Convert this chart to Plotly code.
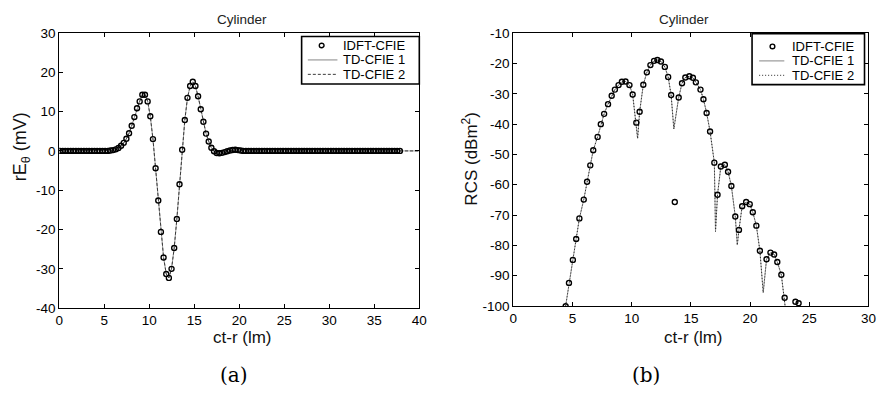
import plotly.graph_objects as go

# ---------------- (a) transient far field, rE_theta in mV ----------------
# IDFT-CFIE samples on a uniform time grid (ct-r in light-metres)
T0 = 0.085
DT = 0.295
e_theta_idft = [
    0.0, 0.0, 0.0, 0.0, 0.0, 0.0, 0.0, 0.0, 0.0, 0.0,
    0.0, 0.0, 0.0, 0.0, 0.0, 0.0, 0.0, 0.0, 0.0, 0.1,
    0.2, 0.4, 0.75, 1.3, 2.05, 3.1, 4.5, 6.4, 8.6, 10.85,
    12.6, 14.3, 14.3, 12.6, 8.8, 3.0, -4.4, -12.6, -20.6, -27.1,
    -31.3, -32.3, -30.0, -24.7, -17.3, -8.5, 0.3, 7.85, 13.5, 16.5,
    17.6, 16.5, 13.9, 10.6, 7.4, 4.4, 2.4, 0.8, -0.1, -0.55,
    -0.6, -0.5, -0.3, -0.1, 0.1, 0.25, 0.3, 0.2, 0.1, 0.0,
    0.0, 0.0, 0.0, 0.0, 0.0, 0.0, 0.0, 0.0, 0.0, 0.0,
    0.0, 0.0, 0.0, 0.0, 0.0, 0.0, 0.0, 0.0, 0.0, 0.0,
    0.0, 0.0, 0.0, 0.0, 0.0, 0.0, 0.0, 0.0, 0.0, 0.0,
    0.0, 0.0, 0.0, 0.0, 0.0, 0.0, 0.0, 0.0, 0.0, 0.0,
    0.0, 0.0, 0.0, 0.0, 0.0, 0.0, 0.0, 0.0, 0.0, 0.0,
    0.0, 0.0, 0.0, 0.0, 0.0, 0.0, 0.0, 0.0, 0.0,
]
t_idft = [round(T0 + DT * k, 3) for k in range(len(e_theta_idft))]

# time-domain CFIE solutions run on to the end of the window
t_td = t_idft + [40.0]
e_theta_td = e_theta_idft + [0.0]

ticks_a_x = [0, 5, 10, 15, 20, 25, 30, 35, 40]
ticks_a_y = [30, 20, 10, 0, -10, -20, -30, -40]

# ---------------- (b) RCS in dBm^2 ----------------
rcs_idft_x = [
    4.42, 4.70, 5.03, 5.31, 5.58, 5.95, 6.23, 6.50, 6.75, 7.12,
    7.39, 7.67, 8.00, 8.31, 8.58, 8.89, 9.17, 9.48, 9.81, 10.08,
    10.39, 10.67, 10.98, 11.28, 11.58, 11.89, 12.17, 12.47, 12.80, 13.08,
    13.33, 13.64, 13.97, 14.25, 14.53, 14.87, 15.17, 15.42, 15.81, 16.06,
    16.33, 16.62, 16.98, 17.25, 17.53, 17.87, 18.14, 18.42, 18.75, 19.06,
    19.33, 19.67, 19.97, 20.23, 20.53, 20.83, 21.39, 21.72, 22.03, 22.30,
    22.64, 22.92, 23.83, 24.10,
]
rcs_idft_y = [
    -100.1, -92.4, -84.8, -77.9, -71.1, -64.9, -59.0, -53.6, -48.6, -44.2,
    -40.0, -36.6, -33.4, -30.6, -28.6, -27.1, -26.0, -25.9, -27.1, -30.2,
    -39.5, -35.9, -27.0, -22.9, -20.5, -19.1, -18.8, -19.3, -21.1, -24.4,
    -30.4, -65.7, -31.2, -26.5, -24.6, -24.2, -24.7, -26.2, -28.6, -31.8,
    -36.3, -42.4, -52.7, -63.3, -54.0, -53.4, -55.7, -60.4, -70.5, -74.9,
    -67.1, -65.7, -66.4, -69.1, -73.5, -81.8, -84.6, -82.4, -83.0, -85.5,
    -89.7, -97.3, -98.6, -99.1,
]

rcs_td_x = [
    4.30, 4.42, 4.70, 5.03, 5.31, 5.58, 5.95, 6.23, 6.50, 6.75,
    7.12, 7.39, 7.67, 8.00, 8.31, 8.58, 8.89, 9.17, 9.48, 9.81,
    10.08, 10.39, 10.50, 10.67, 10.98, 11.28, 11.58, 11.89, 12.17, 12.47,
    12.80, 13.08, 13.33, 13.56, 13.97, 14.25, 14.53, 14.87, 15.17, 15.42,
    15.81, 16.06, 16.33, 16.62, 16.98, 17.08, 17.25, 17.53, 17.87, 18.14,
    18.42, 18.75, 18.92, 19.06, 19.33, 19.67, 19.97, 20.23, 20.53, 20.83,
    21.11, 21.39, 21.72, 22.03, 22.30, 22.64, 22.92, 23.05,
]
rcs_td_y = [
    -103.0, -100.1, -92.4, -84.8, -77.9, -71.1, -64.9, -59.0, -53.6, -48.6,
    -44.2, -40.0, -36.6, -33.4, -30.6, -28.6, -27.1, -26.0, -25.9, -27.1,
    -30.2, -39.5, -44.7, -35.9, -27.0, -22.9, -20.5, -19.1, -18.8, -19.3,
    -21.1, -24.4, -30.4, -41.6, -31.2, -26.5, -24.6, -24.2, -24.7, -26.2,
    -28.6, -31.8, -36.3, -42.4, -52.7, -75.4, -63.3, -54.0, -53.4, -55.7,
    -60.4, -70.5, -79.9, -74.9, -67.1, -65.7, -66.4, -69.1, -73.5, -81.8,
    -95.6, -84.6, -82.4, -83.0, -85.5, -89.7, -97.3, -103.0,
]

ticks_b_x = [0, 5, 10, 15, 20, 25, 30]
ticks_b_y = [-10, -20, -30, -40, -50, -60, -70, -80, -90, -100]

legend_labels = ["IDFT-CFIE", "TD-CFIE 1", "TD-CFIE 2"]

W, H = 888, 396
SANS = "Liberation Sans, Arial, sans-serif"
SERIF = "DejaVu Serif, serif"

MARKER_COLOR = "black"
TD1_COLOR = "#9a9a9a"
TD2_COLOR_A = "#3a3a3a"
TD2_COLOR_B = "#2a2a2a"
TD2_DASH_A = "3px,2px"
TD2_DASH_B = "1px,2px"


def px_x(p):
    return p / W


def px_y(p):
    return 1 - p / H


marker_style = dict(symbol="circle-open", size=5, color=MARKER_COLOR,
                    line=dict(color=MARKER_COLOR, width=1.4))
td1_style = dict(color=TD1_COLOR, width=1)

fig = go.Figure()

# panel (a)
fig.add_trace(go.Scatter(x=t_td, y=e_theta_td, mode="lines", name=legend_labels[1],
                         line=td1_style, xaxis="x", yaxis="y"))
fig.add_trace(go.Scatter(x=t_td, y=e_theta_td, mode="lines", name=legend_labels[2],
                         line=dict(color=TD2_COLOR_A, width=1, dash=TD2_DASH_A),
                         xaxis="x", yaxis="y"))
fig.add_trace(go.Scatter(x=t_idft, y=e_theta_idft, mode="markers", name=legend_labels[0],
                         marker=marker_style, xaxis="x", yaxis="y"))

# panel (b)
fig.add_trace(go.Scatter(x=rcs_td_x, y=rcs_td_y, mode="lines", name=legend_labels[1],
                         line=td1_style, xaxis="x2", yaxis="y2"))
fig.add_trace(go.Scatter(x=rcs_td_x, y=rcs_td_y, mode="lines", name=legend_labels[2],
                         line=dict(color=TD2_COLOR_B, width=1, dash=TD2_DASH_B),
                         xaxis="x2", yaxis="y2"))
fig.add_trace(go.Scatter(x=rcs_idft_x, y=rcs_idft_y, mode="markers", name=legend_labels[0],
                         marker=marker_style, xaxis="x2", yaxis="y2"))


def axis(tickvals, rng, domain, anchor):
    return dict(
        domain=domain, range=rng, anchor=anchor,
        tickmode="array", tickvals=tickvals, ticktext=[str(v) for v in tickvals],
        showline=True, linecolor="black", linewidth=1, mirror="ticks",
        ticks="inside", ticklen=4, tickcolor="black", tickwidth=1,
        showgrid=False, zeroline=False,
        tickfont=dict(family=SANS, size=13.5, color="black"),
    )


fig.update_layout(
    width=W, height=H,
    margin=dict(l=0, r=0, t=0, b=0),
    paper_bgcolor="white", plot_bgcolor="white",
    showlegend=False,
    xaxis=axis(ticks_a_x, [0, 40], [px_x(56), px_x(421)], "y"),
    yaxis=axis(ticks_a_y, [-40, 30], [px_y(313), px_y(27)], "x"),
    xaxis2=axis(ticks_b_x, [0, 30], [px_x(516.3), px_x(876.3)], "y2"),
    yaxis2=axis(ticks_b_y, [-100, -10], [px_y(310.7), px_y(27.3)], "x2"),
)

shapes = []
annotations = []


def add_legend(box, marker_c, line_span, rows, text_x, dash2, color2):
    """Boxed key: open-circle sample, solid grey sample, broken sample."""
    x0, y0, x1, y1 = box
    shapes.append(dict(type="rect", xref="paper", yref="paper",
                       x0=px_x(x0), x1=px_x(x1), y0=px_y(y1), y1=px_y(y0),
                       line=dict(color="black", width=1.6), fillcolor="white", layer="above"))
    r = 2.4
    shapes.append(dict(type="circle", xref="paper", yref="paper",
                       x0=px_x(marker_c - r), x1=px_x(marker_c + r),
                       y0=px_y(rows[0] + r), y1=px_y(rows[0] - r),
                       line=dict(color=MARKER_COLOR, width=1.4), layer="above"))
    shapes.append(dict(type="line", xref="paper", yref="paper",
                       x0=px_x(line_span[0]), x1=px_x(line_span[1]),
                       y0=px_y(rows[1]), y1=px_y(rows[1]),
                       line=dict(color=TD1_COLOR, width=1.2), layer="above"))
    shapes.append(dict(type="line", xref="paper", yref="paper",
                       x0=px_x(line_span[0]), x1=px_x(line_span[1]),
                       y0=px_y(rows[2]), y1=px_y(rows[2]),
                       line=dict(color=color2, width=1, dash=dash2), layer="above"))
    for label, ry in zip(legend_labels, rows):
        annotations.append(dict(text=label, x=px_x(text_x), y=px_y(ry),
                                xanchor="left", yanchor="middle",
                                font=dict(family=SANS, size=13, color="black")))


add_legend((301.7, 30.7, 421.0, 80.0), 322, (308, 338), (40.0, 55.0, 70.0), 342, TD2_DASH_A, TD2_COLOR_A)
add_legend((758.3, 27.7, 872.3, 80.7), 779, (765.5, 791), (41.0, 56.0, 71.0), 797, TD2_DASH_B, TD2_COLOR_B)

annotations += [
    # panel titles
    dict(text="Cylinder", x=px_x(241), y=px_y(12.5), font=dict(family=SANS, size=13.5, color="#222")),
    dict(text="Cylinder", x=px_x(689), y=px_y(12.5), font=dict(family=SANS, size=13.5, color="#222")),
    # x-axis titles
    dict(text="ct-r (lm)", x=px_x(242), y=px_y(343), font=dict(family=SANS, size=17, color="#111")),
    dict(text="ct-r (lm)", x=px_x(699), y=px_y(343), font=dict(family=SANS, size=17, color="#111")),
    # y-axis titles
    dict(text="rE<sub>θ</sub> (mV)", x=px_x(18), y=px_y(145), textangle=-90,
         font=dict(family=SANS, size=18, color="#111")),
    dict(text="RCS (dBm<sup>2</sup>)", x=px_x(472), y=px_y(158), textangle=-90,
         font=dict(family=SANS, size=17, color="#111")),
    # panel labels
    dict(text="(a)", x=px_x(233), y=px_y(382), font=dict(family=SERIF, size=20, color="black")),
    dict(text="(b)", x=px_x(651), y=px_y(382), font=dict(family=SERIF, size=20, color="black")),
]
for a in annotations:
    a.update(xref="paper", yref="paper", showarrow=False)
    a.setdefault("xanchor", "center")
    a.setdefault("yanchor", "middle")

fig.update_layout(shapes=shapes, annotations=annotations)

fig.write_html("out.html")
